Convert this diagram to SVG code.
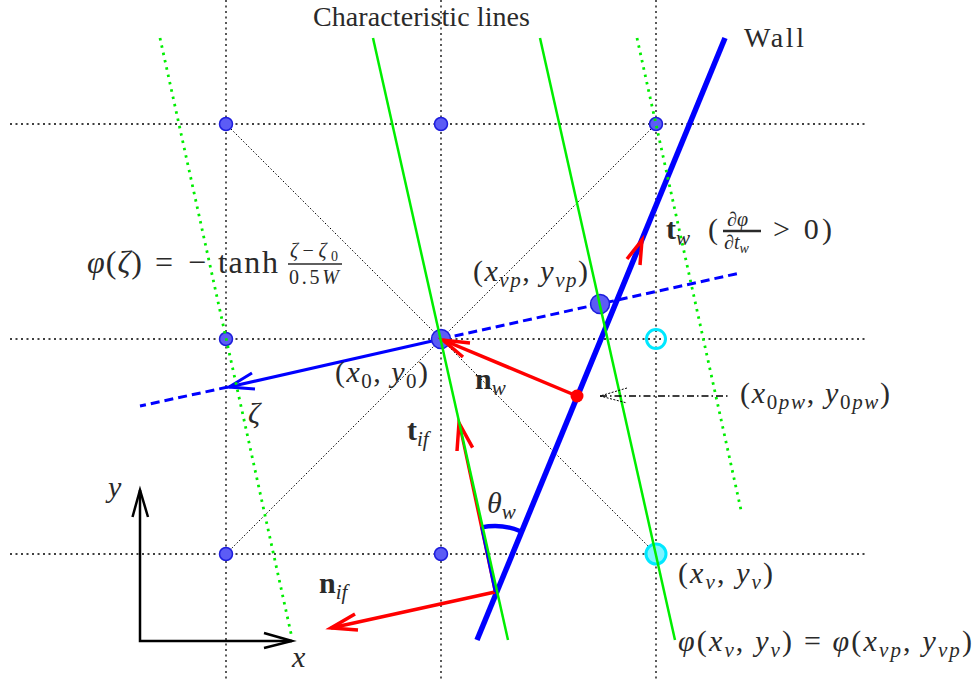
<svg xmlns="http://www.w3.org/2000/svg" width="978" height="682" viewBox="0 0 978 682">
<style>
.grid{stroke:#000;stroke-width:1.3;stroke-dasharray:2 3.5;fill:none}
.diag{stroke:#000;stroke-width:1;stroke-dasharray:1.5 2;fill:none}
.char{stroke:#00ee00;stroke-width:2.5;fill:none}
.chard{stroke:#00ee00;stroke-width:2.8;stroke-dasharray:2.5 5;fill:none}
.wall{stroke:#0000ff;stroke-width:5.5;fill:none}
.bdash{stroke:#0000ff;stroke-width:3;stroke-dasharray:9 5;fill:none}
.bsolid{stroke:#0000ff;stroke-width:3;fill:none}
.red{stroke:#ff0000;stroke-width:3.5;fill:none}
.axis{stroke:#000;stroke-width:2.5;fill:none}
.node{fill:#5c5cf5;stroke:#1c1cdd;stroke-width:1.5}
.cyan{stroke:#00e8ff;stroke-width:3}
text{font-family:"Liberation Serif",serif;fill:#2a2a2a}
.i{font-style:italic}
.b{font-weight:bold}
</style>

<g id="grid">
  <line class="grid" x1="226" y1="0" x2="226" y2="682"/>
  <line class="grid" x1="441" y1="0" x2="441" y2="682"/>
  <line class="grid" x1="656" y1="0" x2="656" y2="682"/>
  <line class="grid" x1="10" y1="124" x2="868" y2="124"/>
  <line class="grid" x1="10" y1="339" x2="868" y2="339"/>
  <line class="grid" x1="10" y1="554" x2="868" y2="554"/>
  <line class="diag" x1="226" y1="124" x2="656" y2="554"/>
  <line class="diag" x1="656" y1="124" x2="226" y2="554"/>
</g>

<g id="connectors">
  <line class="bdash" x1="441" y1="339" x2="740" y2="273"/>
  <line class="bdash" x1="228" y1="387" x2="140" y2="406"/>
  <line class="bsolid" x1="441" y1="339" x2="229" y2="387"/>
  <polyline class="bsolid" points="252,373 229,387 255,389"/>
  <polyline class="axis" points="140,490 140,641 292,641"/>
  <polyline class="axis" points="132.5,517 140,490 148,517"/>
  <polyline class="axis" points="264,633 292,641 264,648"/>
</g>

<g id="n-226-124"><circle class="node" cx="226" cy="124" r="6.5"/></g>
<g id="n-441-124"><circle class="node" cx="441" cy="124" r="6.5"/></g>
<g id="n-656-124"><circle class="node" cx="656" cy="124" r="6.5"/></g>
<g id="n-226-339"><circle class="node" cx="226" cy="339" r="6.5"/></g>
<g id="n-226-554"><circle class="node" cx="226" cy="554" r="6.5"/></g>
<g id="n-441-554"><circle class="node" cx="441" cy="554" r="6.5"/></g>
<g id="n-x0"><circle class="node" cx="441" cy="339" r="9.5"/></g>
<g id="n-xvp"><circle class="node" cx="600" cy="304" r="9.5"/></g>
<g id="n-cyan-open"><circle class="cyan" cx="656" cy="339" r="9.5" fill="none"/></g>
<g id="n-xv"><circle class="cyan" cx="656" cy="554" r="10" fill="#80f4ff"/></g>

<g id="wall">
  <line class="wall" x1="725" y1="38" x2="477" y2="640"/>
</g>

<g id="vectors">
  <line class="red" x1="577" y1="396" x2="443" y2="340"/>
  <polyline class="red" points="470,343 443,340 463,357"/>
  <circle cx="577" cy="396" r="6.5" fill="#ff0000"/>
  <polyline class="red" points="627,259 642,240 640,265"/>
  <line class="red" x1="495" y1="592" x2="459" y2="423" style="stroke-width:2.5"/>
  <polyline class="red" points="457,451 459,423 472.6,447.7"/>
  <line class="red" x1="495" y1="592" x2="331" y2="628"/>
  <polyline class="red" points="355,614 331,628 358,630"/>
  <line x1="481.5" y1="527" x2="495" y2="592" stroke="#0000ff" stroke-width="2.5"/>
  <path d="M 481.5 527.4 A 66 66 0 0 1 520.5 531.2" stroke="#0000ff" stroke-width="4.5" fill="none"/>
</g>

<g id="characteristics">
  <line class="char" x1="373" y1="38" x2="508" y2="640"/>
  <line class="char" x1="540" y1="38" x2="675" y2="640"/>
  <line class="chard" x1="160" y1="38" x2="292" y2="638"/>
  <line class="chard" x1="637" y1="38" x2="741" y2="510"/>
</g>

<g id="pointer">
  <line x1="600" y1="396" x2="728" y2="396" stroke="#000" stroke-width="1.3" stroke-dasharray="7 3 1.5 3"/>
  <polyline points="627,388 600,396 627,403" stroke="#000" stroke-width="1" stroke-dasharray="2 1.5" fill="none"/>
</g>

<g id="labels" font-size="30">
  <text x="313" y="26" font-size="28" textLength="217">Characteristic lines</text>
  <text x="744" y="47" font-size="28" textLength="60">Wall</text>

  <text x="87" y="273" font-size="32" textLength="55"><tspan class="i">φ</tspan>(<tspan class="i">ζ</tspan>)</text>
  <text x="155" y="273" font-size="32">=</text>
  <text x="188" y="273" font-size="32">−</text>
  <text x="218" y="273" font-size="32" textLength="60">tanh</text>
  <text x="290" y="257" font-size="20" textLength="48"><tspan class="i">ζ</tspan>−<tspan class="i">ζ</tspan><tspan dy="4" font-size="14">0</tspan></text>
  <line x1="288" y1="264" x2="342" y2="264" stroke="#2a2a2a" stroke-width="1.6"/>
  <text x="289" y="284" font-size="20" textLength="50">0.5<tspan class="i">W</tspan></text>

  <text x="473" y="281" textLength="115">(<tspan class="i">x</tspan><tspan class="i" dy="6" font-size="21">vp</tspan><tspan dy="-6">, </tspan><tspan class="i">y</tspan><tspan class="i" dy="6" font-size="21">vp</tspan><tspan dy="-6">)</tspan></text>

  <text x="666" y="239"><tspan class="b">t</tspan><tspan class="i" dy="6" font-size="21">w</tspan></text>
  <text x="708" y="239">(</text>
  <text x="727" y="226" font-size="20">∂<tspan class="i">φ</tspan></text>
  <line x1="723" y1="231" x2="761" y2="231" stroke="#2a2a2a" stroke-width="2.5"/>
  <text x="724" y="249" font-size="20">∂<tspan class="i">t</tspan><tspan class="i" dy="4" font-size="14">w</tspan></text>
  <text x="773" y="239" textLength="59">&gt; 0)</text>

  <text x="335" y="382" textLength="93">(<tspan class="i">x</tspan><tspan dy="6" font-size="21">0</tspan><tspan dy="-6">, </tspan><tspan class="i">y</tspan><tspan dy="6" font-size="21">0</tspan><tspan dy="-6">)</tspan></text>

  <text x="475" y="389"><tspan class="b">n</tspan><tspan class="i" dy="6" font-size="21">w</tspan></text>

  <text x="740" y="403" textLength="150">(<tspan class="i">x</tspan><tspan dy="6" font-size="21">0</tspan><tspan class="i" font-size="21">pw</tspan><tspan dy="-6">, </tspan><tspan class="i">y</tspan><tspan dy="6" font-size="21">0</tspan><tspan class="i" font-size="21">pw</tspan><tspan dy="-6">)</tspan></text>

  <text class="i" x="248" y="423">ζ</text>
  <text x="407" y="440"><tspan class="b">t</tspan><tspan class="i" dy="6" font-size="21">if</tspan></text>
  <text x="487" y="513"><tspan class="i">θ</tspan><tspan class="i" dy="6" font-size="21">w</tspan></text>
  <text class="i" x="108" y="497">y</text>
  <text x="319" y="593"><tspan class="b">n</tspan><tspan class="i" dy="6" font-size="21">if</tspan></text>
  <text class="i" x="292" y="667">x</text>

  <text x="678" y="583" textLength="95">(<tspan class="i">x</tspan><tspan class="i" dy="6" font-size="21">v</tspan><tspan dy="-6">, </tspan><tspan class="i">y</tspan><tspan class="i" dy="6" font-size="21">v</tspan><tspan dy="-6">)</tspan></text>

  <text x="678" y="651" textLength="294"><tspan class="i">φ</tspan>(<tspan class="i">x</tspan><tspan class="i" dy="6" font-size="21">v</tspan><tspan dy="-6">, </tspan><tspan class="i">y</tspan><tspan class="i" dy="6" font-size="21">v</tspan><tspan dy="-6">) = </tspan><tspan class="i">φ</tspan>(<tspan class="i">x</tspan><tspan class="i" dy="6" font-size="21">vp</tspan><tspan dy="-6">, </tspan><tspan class="i">y</tspan><tspan class="i" dy="6" font-size="21">vp</tspan><tspan dy="-6">)</tspan></text>
</g>
</svg>
